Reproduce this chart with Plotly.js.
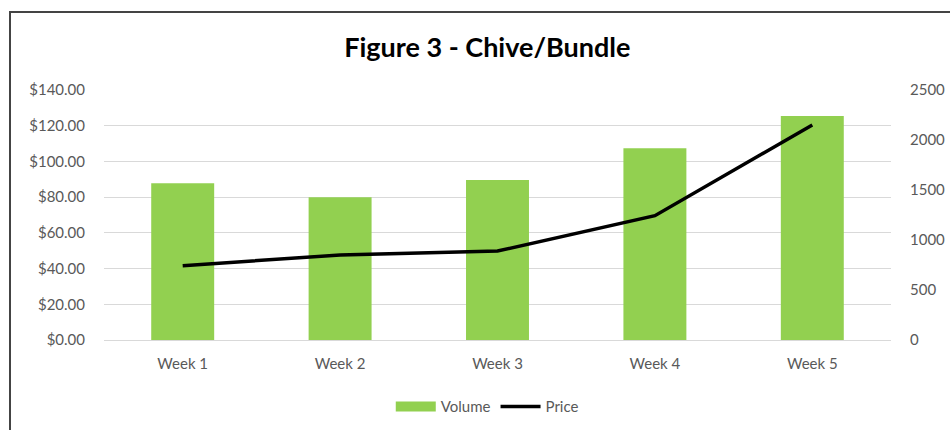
<!DOCTYPE html>
<html>
<head>
<meta charset="utf-8">
<script src="https://cdn.plot.ly/plotly-3.0.1.min.js"></script>
<style>
html,body{margin:0;padding:0;background:#fff;}
#wrap{position:relative;width:950px;height:430px;overflow:hidden;}
#chart{position:absolute;left:0;top:0;width:950px;height:430px;}
#frame{position:absolute;left:9px;top:11px;width:960px;height:440px;border-left:2px solid #444;border-top:2px solid #444;pointer-events:none;}
</style>
</head>
<body>
<div id="wrap"><div id="chart"></div><div id="frame"></div></div>
<script>
const weeks = ["Week 1", "Week 2", "Week 3", "Week 4", "Week 5"];
const volume = [1567, 1427, 1600, 1917, 2240];
const price = [41.6, 47.6, 49.8, 69.6, 120.4];
const priceTicks = [0, 20, 40, 60, 80, 100, 120, 140];
const volumeTicks = [0, 500, 1000, 1500, 2000, 2500];

const tickFont = {family: "Lato, 'DejaVu Sans', sans-serif", size: 15, color: "#595959"};
const green = "#92D050";

const traces = [
  {
    type: "bar", name: "Volume", x: weeks, y: volume, yaxis: "y2",
    marker: {color: green}, showlegend: false
  },
  {
    // legend entry for the bars, drawn as a wide swatch like the original
    type: "scatter", mode: "lines", name: "Volume", x: weeks, y: weeks.map(() => null),
    yaxis: "y2", line: {color: green, width: 12}, showlegend: true, hoverinfo: "skip"
  },
  {
    type: "scatter", mode: "lines", name: "Price", x: weeks, y: price, yaxis: "y",
    line: {color: "#000000", width: 3.5}
  }
];

const layout = {
  width: 950, height: 430,
  margin: {l: 104, r: 59, t: 90, b: 90, autoexpand: false},
  paper_bgcolor: "#ffffff", plot_bgcolor: "#ffffff",
  title: {
    text: "<b>Figure 3 - Chive/Bundle</b>",
    font: {family: "Lato, 'DejaVu Sans', sans-serif", size: 27, color: "#000000"},
    x: 0.513, xanchor: "center", y: 0.89, yanchor: "middle"
  },
  bargap: 0.6,
  showlegend: true,
  legend: {
    orientation: "h", x: 0.487, xanchor: "center", yref: "container", y: 0.054, yanchor: "middle",
    font: tickFont, traceorder: "normal", itemwidth: 40
  },
  xaxis: {
    tickfont: tickFont, showgrid: false, showline: true, linecolor: "#d9d9d9", linewidth: 1,
    ticks: "", ticklen: 0, ticklabelstandoff: 10
  },
  yaxis2: {
    side: "right", range: [0, 2500], tickvals: volumeTicks, ticktext: volumeTicks.map(String),
    showgrid: false, zeroline: false, tickfont: tickFont, ticks: "", ticklabelstandoff: 18
  },
  yaxis: {
    overlaying: "y2", side: "left", range: [0, 140], tickvals: priceTicks,
    ticktext: priceTicks.map(v => "$" + v.toFixed(2)),
    showgrid: true, gridcolor: "#d9d9d9", gridwidth: 1, zeroline: false,
    tickfont: tickFont, ticks: "", ticklabelstandoff: 18
  }
};

Plotly.newPlot("chart", traces, layout, {displayModeBar: false, staticPlot: true});
</script>
</body>
</html>
